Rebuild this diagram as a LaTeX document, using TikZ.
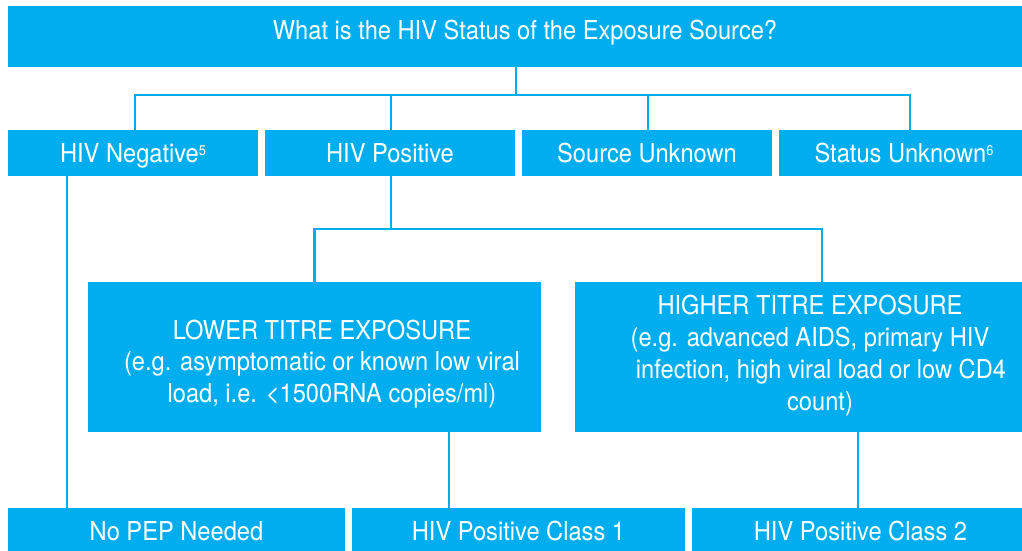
\documentclass[tikz,border=0pt]{standalone}
\usepackage{fontspec}
\setmainfont{TeX Gyre Heros}[FakeStretch=0.91]
\definecolor{hivcyan}{RGB}{0,174,239}
\newcommand{\fnmark}[1]{\raisebox{7.5pt}{\fontsize{14}{14}\selectfont #1}}
\begin{document}
\begin{tikzpicture}[x=1pt,y=-1pt,
  box/.style={fill=hivcyan, draw=none, inner sep=0pt, text=white,
    font=\fontsize{26}{31.7}\selectfont, text height=19pt, text depth=0pt},
  txt/.style={text=white, inner sep=0pt, align=center,
    font=\fontsize{26}{31.7}\selectfont},
  link/.style={draw=hivcyan, line width=2.3pt}]
\clip (0,0) rectangle (1022,551);
% boxes
\node[box, minimum width=1021pt, minimum height=61pt] (q) at (518.5,36.5) {};
\node[box, minimum width=250pt, minimum height=46pt] (neg) at (133,153) {HIV Negative\fnmark{5}};
\node[box, minimum width=250pt, minimum height=46pt] (pos) at (390,153) {HIV Positive};
\node[box, minimum width=250pt, minimum height=46pt] (src) at (647,153) {Source Unknown};
\node[box, minimum width=250pt, minimum height=46pt] (sta) at (904,153) {Status Unknown\fnmark{6}};
\node[box, minimum width=453pt, minimum height=150pt] (lower) at (314.5,357) {};
\node[box, minimum width=453pt, minimum height=150pt] (higher) at (801.5,357) {};
\node[box, minimum width=337pt, minimum height=46pt] (nopep) at (176.5,531) {No PEP Needed};
\node[box, minimum width=333pt, minimum height=46pt] (c1) at (518.5,531) {HIV Positive Class 1};
\node[box, minimum width=337pt, minimum height=46pt] (c2) at (860.5,531) {HIV Positive Class 2};
% texts of the larger boxes (base = baseline of the last line)
\node[txt, anchor=base] (qt) at (525,40) {What is the HIV Status of the Exposure Source?};
\node[txt, anchor=base] (lowt) at (322,402.5) {LOWER TITRE EXPOSURE\\(e.g. asymptomatic or known low viral\\\hspace*{20pt}load, i.e. <1500RNA copies/ml)};
\node[txt, anchor=base] (hight) at (810,410) {HIGHER TITRE EXPOSURE\\(e.g. advanced AIDS, primary HIV\\\hspace*{22pt}infection, high viral load or low CD4\\\hspace*{20pt}count)};
% connectors
\coordinate (bus1) at (0,95);
\coordinate (bus2) at (0,229);
\draw[link] ([xshift=-2.5pt]q.south) -- ([xshift=-2.5pt]q.south |- bus1);
\draw[link] ([xshift=2pt]neg.north) |- ([xshift=6pt]sta.north |- bus1) -- ([xshift=6pt]sta.north);
\draw[link] ([xshift=1pt]pos.north) -- ([xshift=1pt]pos.north |- bus1);
\draw[link] ([xshift=1pt]src.north) -- ([xshift=1pt]src.north |- bus1);
\draw[link] ([xshift=1pt]pos.south) -- ([xshift=1pt]pos.south |- bus2);
\draw[link] (lower.north) |- ([xshift=20.5pt]higher.north |- bus2) -- ([xshift=20.5pt]higher.north);
\draw[link] ([xshift=-66pt]neg.south) -- ([xshift=-66pt]neg.south |- nopep.north);
\draw[link] ([xshift=134.5pt]lower.south) -- ([xshift=134.5pt]lower.south |- c1.north);
\draw[link] ([xshift=56.5pt]higher.south) -- ([xshift=56.5pt]higher.south |- c2.north);
\end{tikzpicture}
\end{document}
